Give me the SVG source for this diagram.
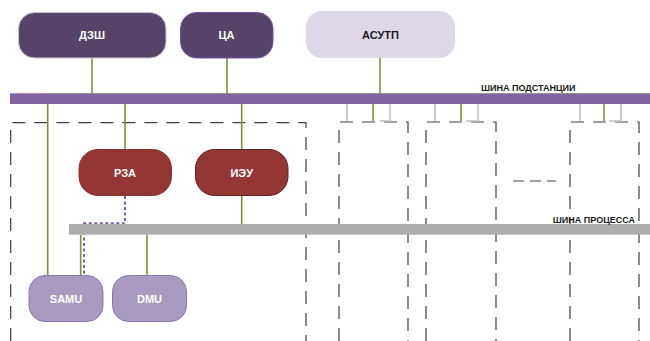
<svg xmlns="http://www.w3.org/2000/svg" width="650" height="341" viewBox="0 0 650 341">
<style>
.lbl{font-family:"Liberation Sans",Arial,sans-serif;font-weight:bold;font-size:11px;fill:#fff;text-anchor:middle}
.bus{font-family:"Liberation Sans",Arial,sans-serif;font-weight:bold;font-size:9px;fill:#1a1a1a}
.dash{fill:none;stroke:#404040;stroke-width:1.2;stroke-dasharray:13 9}
.g{stroke:#77933C;stroke-width:1.6;fill:none}
.gr{stroke:#BFBFBF;stroke-width:1.6;fill:none}
.dark{fill:#56436A;stroke:#C9C4CF;stroke-width:1}
.red{fill:#943634;stroke:#8A3230;stroke-width:1}
.lilac{fill:#A99AC1;stroke:#8A76AC;stroke-width:1}
</style>
<rect width="650" height="341" fill="#fff"/>
<g id="zones">
<path class="dash" d="M10.7,341 V122.7 H306 V341"/>
<path class="dash" d="M339,341 V122 H408 V341"/>
<path class="dash" d="M426,341 V122 H496 V341"/>
<path class="dash" d="M570,341 V122 H639 V341"/>
<path fill="none" stroke="#404040" stroke-width="1.2" stroke-dasharray="11 6" d="M513,181 H556"/>
</g>
<g id="connectors">
<path class="g" d="M92,58 V94"/>
<path class="g" d="M227,58 V94"/>
<path class="g" d="M380,58 V94"/>
<path class="g" d="M47.7,104 V275"/>
<path class="g" d="M125,104 V149"/>
<path class="g" d="M241.7,104 V149"/>
<path class="g" d="M241.7,196 V224"/>
<path class="g" d="M80.7,235 V275"/>
<path class="g" d="M147,235 V275"/>
<path class="gr" d="M347,104 V121"/>
<path class="gr" d="M390,104 V121 H380"/>
<path class="g" d="M373,104 V121"/>
<path class="gr" d="M435,104 V121"/>
<path class="gr" d="M478,104 V121 H466"/>
<path class="g" d="M461,104 V121"/>
<path class="gr" d="M580,104 V121"/>
<path class="gr" d="M621,104 V121 H609"/>
<path class="g" d="M604,104 V121"/>
<path fill="none" stroke="#7B62A6" stroke-width="2" stroke-dasharray="3 2.5" d="M125,196 V223.3 H84 V276"/>
</g>
<g id="bus-substation">
<rect x="10" y="93.3" width="640" height="10.7" fill="#8064A2"/>
<path d="M47,93.6 H650" stroke="#7F9A48" stroke-width="0.8" opacity="0.6"/>
<text class="bus" x="481" y="91">ШИНА ПОДСТАНЦИИ</text>
</g>
<g id="bus-process">
<rect x="69" y="224" width="581" height="10.7" fill="#ADADB0"/>
<text class="bus" x="635" y="222.5" text-anchor="end">ШИНА ПРОЦЕССА</text>
</g>
<g id="node-dzsh">
<rect class="dark" x="18.5" y="12.5" width="147.5" height="45.5" rx="16"/>
<text class="lbl" x="92" y="39">ДЗШ</text>
</g>
<g id="node-ca">
<rect x="180.5" y="12.5" width="92.5" height="45.5" rx="16" fill="#56436A" stroke="#7A4FA8" stroke-width="1"/>
<text class="lbl" x="226.5" y="39">ЦА</text>
</g>
<g id="node-asutp">
<rect x="306" y="11" width="149" height="47" rx="16" fill="#DDD7E7"/>
<text class="lbl" x="380.5" y="39" fill="#1a1a1a" style="fill:#1a1a1a">АСУТП</text>
</g>
<g id="node-rza">
<rect class="red" x="79" y="149.5" width="92.5" height="46" rx="19"/>
<text class="lbl" x="125" y="176.5">РЗА</text>
</g>
<g id="node-ieu">
<rect x="195.5" y="149.5" width="92.5" height="46" rx="19" fill="#943634" stroke="#5E2220" stroke-width="1"/>
<text class="lbl" x="241.7" y="176.5">ИЭУ</text>
</g>
<g id="node-samu">
<rect class="lilac" x="29" y="275.5" width="74" height="46" rx="16"/>
<text class="lbl" x="66" y="302.5">SAMU</text>
</g>
<g id="node-dmu">
<rect class="lilac" x="112.5" y="275.5" width="74" height="46" rx="16"/>
<text class="lbl" x="149.5" y="302.5">DMU</text>
</g>
</svg>
